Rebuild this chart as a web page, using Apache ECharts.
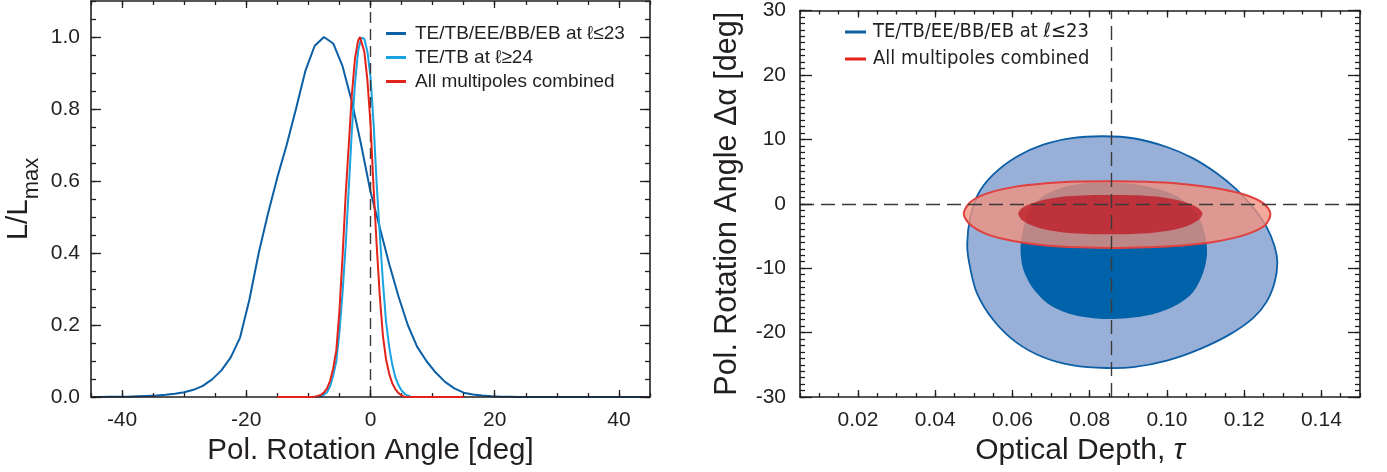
<!DOCTYPE html>
<html><head><meta charset="utf-8">
<script src="https://cdn.jsdelivr.net/npm/echarts@6/dist/echarts.min.js"></script>
<style>html,body{margin:0;padding:0;background:#fff}#c{width:1387px;height:472px}</style>
</head><body><div id="c"></div>
<script>
// ---------------- Left panel: 1-D likelihoods ----------------
const nameLow = 'TE/TB/EE/BB/EB at ℓ≤23';
const nameHigh = 'TE/TB at ℓ≥24';
const nameAll = 'All multipoles combined';

const angleDark = [-45,-43.5,-42,-40.5,-39,-37.5,-36,-34.5,-33,-31.5,-30,-28.5,-27,-25.5,-24,-22.5,-21,-19.5,-18,-16.5,-15,-13.5,-12,-10.5,-9,-7.5,-6,-4.5,-3,-1.5,0,1.5,3,4.5,6,7.5,9,10.5,12,13.5,15,16.5,18,19.5,21,22.5,24,25.5,27,28.5,30,31.5,33,34.5,36,37.5,39,40.5,42,43.5,45];
const likeDark  = [0,0,0.001,0.001,0.001,0.002,0.003,0.004,0.006,0.009,0.013,0.020,0.031,0.049,0.074,0.110,0.165,0.270,0.400,0.510,0.610,0.700,0.800,0.905,0.975,1.000,0.982,0.919,0.820,0.700,0.570,0.470,0.370,0.280,0.200,0.140,0.100,0.068,0.042,0.024,0.012,0.007,0.004,0.002,0.001,0.001,0,0,0,0,0,0,0,0,0,0,0,0,0,0,0];

const angleLight = [-15,-10,-9,-8.5,-8,-7.5,-7,-6.5,-6,-5.5,-5,-4.5,-4,-3.5,-3,-2.5,-2,-1.5,-1.2,-1,-0.5,0,0.5,1,1.5,2,2.5,3,3.5,4,4.5,5,5.5,6,6.5,7,10,15];
const likeLight  = [0,0,0,0.001,0.002,0.006,0.013,0.03,0.06,0.10,0.18,0.29,0.42,0.58,0.74,0.87,0.96,0.998,1.0,0.995,0.96,0.89,0.76,0.59,0.45,0.32,0.21,0.14,0.09,0.055,0.033,0.018,0.009,0.004,0.001,0,0,0];

const angleRed = [-15,-10,-9,-8.5,-8,-7.5,-7,-6.5,-6,-5.5,-5,-4.5,-4,-3.5,-3,-2.5,-2,-1.7,-1.5,-1,-0.5,0,0.5,1,1.5,2,2.5,3,3.5,4,4.5,5,5.5,6,10,15];
const likeRed  = [0,0,0.001,0.003,0.006,0.012,0.024,0.045,0.08,0.13,0.24,0.39,0.56,0.70,0.84,0.94,0.99,1.0,0.997,0.96,0.88,0.76,0.58,0.42,0.28,0.17,0.105,0.065,0.038,0.022,0.011,0.004,0.001,0,0,0];

const leftXTickLabels = [-40,-20,0,20,40];
const leftYTickLabels = [0,0.2,0.4,0.6,0.8,1.0];
const leftXRange = [-45,45];
const leftYRange = [0,1.1];
const zeroAngle = 0;

// ---------------- Right panel: 2-D contours ----------------
const blueOuterTau   = [0.0835,0.0913,0.1000,0.1068,0.1128,0.1180,0.1223,0.1258,0.1279,0.1286,0.1279,0.1258,0.1223,0.1163,0.1085,0.1000,0.0913,0.0844,0.0758,0.0680,0.0611,0.0550,0.0507,0.0488,0.0483,0.0491,0.0511,0.0550,0.0611,0.0680,0.0758];
const blueOuterAlpha = [10.48,10.17,8.81,7.04,4.77,2.23,-0.55,-3.58,-6.62,-9.15,-12.19,-15.23,-17.76,-20.28,-22.56,-24.34,-25.35,-25.5,-25.1,-23.83,-21.56,-18.0,-13.71,-9.15,-6.12,-2.07,1.47,4.51,7.29,9.17,10.23];

const blueInnerTau   = [0.0861,0.0947,0.1025,0.1077,0.1098,0.1104,0.1094,0.1068,0.1025,0.0964,0.0896,0.0826,0.0757,0.0697,0.0654,0.0628,0.0621,0.0627,0.0645,0.0680,0.0732,0.0792];
const blueInnerAlpha = [3.25,2.73,1.21,-1.56,-4.6,-7.64,-10.67,-13.71,-15.73,-17.15,-17.76,-17.86,-17.25,-15.73,-13.2,-10.17,-7.14,-4.1,-1.06,1.21,2.58,3.19];

const redOuterTau   = [0.0474,0.0490,0.0533,0.0602,0.0688,0.0775,0.0861,0.0947,0.1033,0.1120,0.1198,0.1250,0.1268,0.1254,0.1206,0.1128,0.1033,0.0947,0.0861,0.0775,0.0688,0.0602,0.0533,0.0490];
const redOuterAlpha = [-1.56,0.21,1.58,2.58,3.19,3.45,3.49,3.40,3.10,2.49,1.47,0.06,-1.56,-3.34,-4.75,-5.86,-6.53,-6.77,-6.88,-6.77,-6.47,-5.77,-4.71,-3.19];

const redInnerTau   = [0.0615,0.0628,0.0672,0.0740,0.0852,0.0965,0.1042,0.1081,0.1092,0.1081,0.1042,0.0965,0.0852,0.0740,0.0672,0.0628];
const redInnerAlpha = [-1.56,-0.55,0.46,1.17,1.37,1.17,0.36,-0.65,-1.56,-2.58,-3.69,-4.49,-4.75,-4.49,-3.8,-2.67];

const tauFiducial = 0.0857;
const alphaZero = 0;
const rightXTickLabels = [0.02,0.04,0.06,0.08,0.10,0.12,0.14];
const rightYTickLabels = [-30,-20,-10,0,10,20,30];
const rightXRange = [0.005,0.15];
const rightYRange = [-30,30];

// ---------------- styling ----------------
const FONT = "'Liberation Sans', Arial, Helvetica, sans-serif";
const INK = '#231f20';
const C_DARK = '#0b5fa5';
const C_LIGHT = '#1aa3e0';
const C_RED = '#e2231a';

function steps(a, b, s) { const out = []; const n = Math.round((b - a) / s); for (let i = 0; i <= n; i++) out.push(+(a + i * s).toFixed(6)); return out; }
const leftXMinor = steps(-45, 45, 5);
const leftYMinor = steps(0, 1.1, 0.05);
const rightXMinor = steps(0.005, 0.15, 0.005);
const rightYMinor = steps(-30, 30, 1);

function ax(grid, pos, range, ticks, len, extra) {
  return Object.assign({
    type: 'value', gridIndex: grid, position: pos, min: range[0], max: range[1],
    axisLine: { show: true, onZero: false, lineStyle: { color: INK, width: 1.6 } },
    axisTick: { show: true, inside: true, length: len, customValues: ticks, lineStyle: { color: INK, width: 1.3 } },
    axisLabel: { show: false }, splitLine: { show: false }, z: 5
  }, extra || {});
}
function lbl(vals, fmt, size, margin) {
  return { show: true, customValues: vals, formatter: fmt, fontSize: size, fontFamily: FONT, color: INK, margin: margin };
}
const noLine = { axisLine: { show: false, onZero: false } };

const xAxes = [
  ax(0, 'bottom', leftXRange, leftXTickLabels, 7, {
    axisLabel: lbl(leftXTickLabels, v => String(v), 21, 13),
    name: 'Pol. Rotation Angle [deg]', nameLocation: 'middle', nameGap: 37,
    nameTextStyle: { fontSize: 29.5, fontFamily: FONT, color: INK } }),
  ax(0, 'bottom', leftXRange, leftXMinor, 4, noLine),
  ax(0, 'top', leftXRange, leftXTickLabels, 7),
  ax(0, 'top', leftXRange, leftXMinor, 4, noLine),
  ax(1, 'bottom', rightXRange, rightXTickLabels, 7, {
    axisLabel: lbl(rightXTickLabels, v => v.toFixed(2), 21, 13),
    name: '{n|Optical Depth, }{t|τ}', nameLocation: 'middle', nameGap: 36,
    nameTextStyle: { fontSize: 30, fontFamily: FONT, color: INK,
      rich: { n: { fontSize: 30, fontFamily: FONT, color: INK }, t: { fontSize: 30, fontFamily: FONT, color: INK, fontStyle: 'italic' } } } }),
  ax(1, 'bottom', rightXRange, rightXMinor, 4, noLine),
  ax(1, 'top', rightXRange, rightXTickLabels, 7),
  ax(1, 'top', rightXRange, rightXMinor, 4, noLine)
];
const yAxes = [
  ax(0, 'left', leftYRange, leftYTickLabels, 10, {
    axisLabel: lbl(leftYTickLabels, v => v.toFixed(1), 21, 11),
    name: '{a|L/L}{b|max}', nameLocation: 'middle', nameGap: 48, nameRotate: 90,
    nameTextStyle: { fontSize: 29, fontFamily: FONT, color: INK,
      rich: { a: { fontSize: 29.5, fontFamily: FONT, color: INK, verticalAlign: 'bottom', padding: [0, 0, 9, 0] },
              b: { fontSize: 22, fontFamily: FONT, color: INK, verticalAlign: 'bottom' } } } }),
  ax(0, 'left', leftYRange, leftYMinor, 5, noLine),
  ax(0, 'right', leftYRange, leftYTickLabels, 10),
  ax(0, 'right', leftYRange, leftYMinor, 5, noLine),
  ax(1, 'left', rightYRange, rightYTickLabels, 12, {
    axisLabel: lbl(rightYTickLabels, v => String(v), 21, 14),
    name: 'Pol. Rotation Angle Δα [deg]', nameLocation: 'middle', nameGap: 57, nameRotate: 90,
    nameTextStyle: { fontSize: 30.5, fontFamily: FONT, color: INK } }),
  ax(1, 'left', rightYRange, rightYMinor, 5, noLine),
  ax(1, 'right', rightYRange, rightYTickLabels, 12),
  ax(1, 'right', rightYRange, rightYMinor, 5, noLine)
];

function zip(a, b) { return a.map((v, i) => [v, b[i]]); }
function lineSeries(name, xs, ys, color, z) {
  return { type: 'line', name: name, xAxisIndex: 0, yAxisIndex: 0, data: zip(xs, ys), color: color,
    showSymbol: false, symbol: 'none', smooth: false, lineStyle: { color: color, width: 2 }, z: z, silent: true };
}
function poly(api, taus, alphas, style) {
  const pts = taus.map((t, i) => api.coord([t, alphas[i]]));
  return { type: 'polygon', shape: { points: pts, smooth: 0.3 }, style: style };
}

const series = [
  lineSeries(nameLow, angleDark, likeDark, C_DARK, 3),
  lineSeries(nameHigh, angleLight, likeLight, C_LIGHT, 4),
  lineSeries(nameAll, angleRed, likeRed, C_RED, 5),
  { type: 'line', xAxisIndex: 0, yAxisIndex: 0, data: [[zeroAngle, 0]], showSymbol: false, symbol: 'none', silent: true, z: 6,
    markLine: { silent: true, precision: 6, symbol: ['none', 'none'], label: { show: false }, animation: false,
      lineStyle: { color: '#3a3a3a', type: [11, 6], width: 1.4 }, data: [{ xAxis: zeroAngle }] } },
  { type: 'custom', name: nameLow, xAxisIndex: 4, yAxisIndex: 4, coordinateSystem: 'cartesian2d', silent: true, z: 2,
    itemStyle: { color: C_DARK }, data: [[blueOuterTau[0], blueOuterAlpha[0]]],
    renderItem: (p, api) => ({ type: 'group', children: [
      poly(api, blueOuterTau, blueOuterAlpha, { fill: '#98b0d8', stroke: '#0d5fa6', lineWidth: 1.8 }),
      poly(api, blueInnerTau, blueInnerAlpha, { fill: '#0062a8', stroke: null })
    ] }) },
  { type: 'custom', name: nameAll, xAxisIndex: 4, yAxisIndex: 4, coordinateSystem: 'cartesian2d', silent: true, z: 3,
    itemStyle: { color: C_RED }, data: [[redOuterTau[0], redOuterAlpha[0]]],
    renderItem: (p, api) => ({ type: 'group', children: [
      poly(api, redOuterTau, redOuterAlpha, { fill: 'rgba(242,145,125,0.78)', stroke: '#e0403f', lineWidth: 2 }),
      poly(api, redInnerTau, redInnerAlpha, { fill: 'rgba(190,30,40,0.8)', stroke: null })
    ] }) },
  { type: 'line', xAxisIndex: 4, yAxisIndex: 4, data: [[tauFiducial, alphaZero]], showSymbol: false, symbol: 'none', silent: true, z: 6,
    markLine: { silent: true, precision: 6, symbol: ['none', 'none'], label: { show: false }, animation: false,
      lineStyle: { color: '#3a3a3a', type: [14, 7], width: 1.4 }, data: [{ xAxis: tauFiducial }, { yAxis: alphaZero }] } }
];

const chart = echarts.init(document.getElementById('c'), null, { renderer: 'canvas' });
chart.setOption({
  animation: false,
  backgroundColor: '#fff',
  grid: [
    { left: 91, top: 1, width: 559, height: 396 },
    { left: 800, top: 2, width: 560, height: 395 }
  ],
  xAxis: xAxes,
  yAxis: yAxes,
  legend: [
    { left: 386, top: 24, orient: 'vertical', icon: 'rect', itemWidth: 20, itemHeight: 3, itemGap: 5, padding: 0, selectedMode: false,
      textStyle: { fontSize: 19, fontFamily: FONT, color: INK, padding: [0, 0, 0, 4] },
      data: [{ name: nameLow, itemStyle: { color: C_DARK } }, { name: nameHigh, itemStyle: { color: C_LIGHT } }, { name: nameAll, itemStyle: { color: C_RED } }] },
    { left: 845, top: 22, orient: 'vertical', icon: 'rect', itemWidth: 21, itemHeight: 3, itemGap: 7, padding: 0, selectedMode: false,
      textStyle: { fontSize: 20, fontFamily: "'Liberation Sans Narrow', 'DejaVu Sans Condensed', " + FONT, color: INK, padding: [0, 0, 0, 2] },
      data: [{ name: nameLow, itemStyle: { color: C_DARK } }, { name: nameAll, itemStyle: { color: C_RED } }] }
  ],
  series: series
});
</script></body></html>
